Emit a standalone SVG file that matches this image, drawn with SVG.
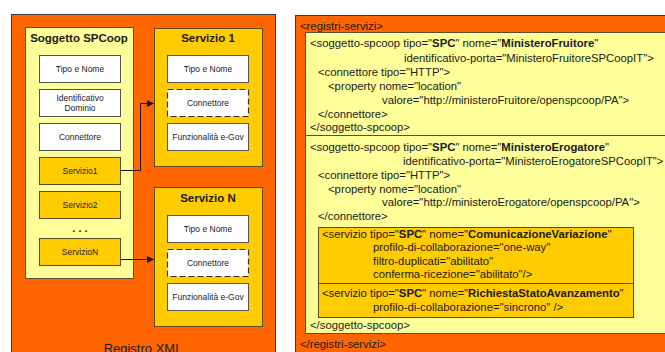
<svg xmlns="http://www.w3.org/2000/svg" width="665" height="352" viewBox="0 0 665 352">
  <style>
    text { font-family: "Liberation Sans", Arial, sans-serif; fill: #1a1a1a; }
    .panel { fill: #ff6600; stroke: #3a3a3a; stroke-width: 1; }
    .pale { fill: #ffff99; stroke: #5a5030; stroke-width: 1; }
    .gold { fill: #ffcc00; stroke: #5a4a20; stroke-width: 1; }
    .white { fill: #ffffff; stroke: #555555; stroke-width: 1; }
    .dashed { fill: #ffffff; stroke: #333333; stroke-width: 1.2; stroke-dasharray: 6 3; }
    .title { font-size: 11.5px; font-weight: bold; text-anchor: middle; }
    .lbl { font-size: 8.5px; text-anchor: middle; }
    .xml { font-size: 11.3px; }
    .b { font-weight: bold; }
    .wire { fill: none; stroke: #1a1a1a; stroke-width: 1; }
  </style>
  <defs>
    <marker id="arrow" viewBox="0 0 10 10" refX="10" refY="5" markerWidth="9" markerHeight="7" markerUnits="userSpaceOnUse" orient="auto">
      <path d="M0,0 L10,5 L0,10 z" fill="#1a1a1a"/>
    </marker>
  </defs>

  <!-- Registry model -->
  <g id="registro-xml">
    <rect class="panel" x="11.5" y="14.5" width="264" height="400"/>
    <text x="143" y="352.5" style="font-size:13px;text-anchor:middle">Registro XML</text>
  </g>

  <g id="soggetto-spcoop">
    <rect class="pale" x="25.5" y="27.5" width="108" height="251"/>
    <text class="title" x="79" y="42">Soggetto SPCoop</text>
    <g id="sog-tipo-nome">
      <rect class="white" x="39.5" y="55.5" width="81" height="27"/>
      <text class="lbl" x="80" y="72">Tipo e Nome</text>
    </g>
    <g id="sog-identificativo">
      <rect class="white" x="39.5" y="89.5" width="81" height="27"/>
      <text class="lbl" x="80" y="100.5">Identificativo</text>
      <text class="lbl" x="80" y="110.5">Dominio</text>
    </g>
    <g id="sog-connettore">
      <rect class="white" x="39.5" y="123.5" width="81" height="27"/>
      <text class="lbl" x="80" y="140">Connettore</text>
    </g>
    <g id="sog-servizio1">
      <rect class="gold" x="39.5" y="157.5" width="81" height="27"/>
      <text class="lbl" x="80" y="174">Servizio1</text>
    </g>
    <g id="sog-servizio2">
      <rect class="gold" x="39.5" y="191.5" width="81" height="27"/>
      <text class="lbl" x="80" y="208">Servizio2</text>
    </g>
    <text x="80" y="232" style="font-size:11px;font-weight:bold;text-anchor:middle">. . .</text>
    <g id="sog-servizioN">
      <rect class="gold" x="39.5" y="238.5" width="81" height="27"/>
      <text class="lbl" x="80" y="255">ServizioN</text>
    </g>
  </g>

  <g id="servizio-1">
    <rect class="gold" x="154.5" y="28.5" width="108" height="138"/>
    <text class="title" x="208" y="42">Servizio 1</text>
    <rect class="white" x="167.5" y="55.5" width="81" height="27"/>
    <text class="lbl" x="208" y="72">Tipo e Nome</text>
    <rect class="dashed" x="167.5" y="89.5" width="81" height="27"/>
    <text class="lbl" x="208" y="106">Connettore</text>
    <rect class="white" x="167.5" y="123.5" width="81" height="27"/>
    <text class="lbl" x="208" y="140">Funzionalità e-Gov</text>
  </g>

  <g id="servizio-n">
    <rect class="gold" x="154.5" y="187.5" width="108" height="139"/>
    <text class="title" x="208" y="202">Servizio N</text>
    <rect class="white" x="167.5" y="215.5" width="81" height="27"/>
    <text class="lbl" x="208" y="232">Tipo e Nome</text>
    <rect class="dashed" x="167.5" y="249.5" width="81" height="27"/>
    <text class="lbl" x="208" y="266">Connettore</text>
    <rect class="white" x="167.5" y="283.5" width="81" height="27"/>
    <text class="lbl" x="208" y="300">Funzionalità e-Gov</text>
  </g>

  <g id="connectors">
    <path class="wire" d="M120.5,170.5 H140.5 V103.5 H154" marker-end="url(#arrow)"/>
    <path class="wire" d="M120.5,259.5 H154" marker-end="url(#arrow)"/>
  </g>

  <!-- XML listing -->
  <g id="registri-servizi">
    <rect class="panel" x="295.5" y="15.5" width="400" height="400"/>
    <text class="xml" x="300" y="30">&lt;registri-servizi&gt;</text>
    <text class="xml" x="300" y="348">&lt;/registri-servizi&gt;</text>
  </g>

  <g id="soggetto-fruitore">
    <rect class="pale" x="305.5" y="32.5" width="380" height="103"/>
    <text class="xml" x="310" y="47">&lt;soggetto-spcoop tipo="<tspan class="b">SPC</tspan>" nome="<tspan class="b">MinisteroFruitore</tspan>"</text>
    <text class="xml" x="404" y="62">identificativo-porta="MinisteroFruitoreSPCoopIT"&gt;</text>
    <text class="xml" x="318" y="76">&lt;connettore tipo="HTTP"&gt;</text>
    <text class="xml" x="328" y="90">&lt;property nome="location"</text>
    <text class="xml" x="382" y="104">valore="http://ministeroFruitore/openspcoop/PA"&gt;</text>
    <text class="xml" x="318" y="118">&lt;/connettore&gt;</text>
    <text class="xml" x="310" y="131">&lt;/soggetto-spcoop&gt;</text>
  </g>

  <g id="soggetto-erogatore">
    <rect class="pale" x="305.5" y="135.5" width="380" height="198"/>
    <text class="xml" x="310" y="151">&lt;soggetto-spcoop tipo="<tspan class="b">SPC</tspan>" nome="<tspan class="b">MinisteroErogatore</tspan>"</text>
    <text class="xml" x="403" y="165">identificativo-porta="MinisteroErogatoreSPCoopIT"&gt;</text>
    <text class="xml" x="318" y="179">&lt;connettore tipo="HTTP"&gt;</text>
    <text class="xml" x="328" y="193">&lt;property nome="location"</text>
    <text class="xml" x="382" y="206">valore="http://ministeroErogatore/openspcoop/PA"&gt;</text>
    <text class="xml" x="318" y="220">&lt;/connettore&gt;</text>
    <text class="xml" x="310" y="329">&lt;/soggetto-spcoop&gt;</text>
  </g>

  <g id="servizio-comunicazione">
    <rect class="gold" x="318.5" y="227.5" width="315" height="56"/>
    <text class="xml" x="322" y="238">&lt;servizio tipo="<tspan class="b">SPC</tspan>" nome="<tspan class="b">ComunicazioneVariazione</tspan>"</text>
    <text class="xml" x="373" y="251">profilo-di-collaborazione="one-way"</text>
    <text class="xml" x="373" y="265">filtro-duplicati="abilitato"</text>
    <text class="xml" x="373" y="278">conferma-ricezione="abilitato"/&gt;</text>
  </g>

  <g id="servizio-richiesta">
    <rect class="gold" x="318.5" y="283.5" width="315" height="34"/>
    <text class="xml" x="322" y="297">&lt;servizio tipo="<tspan class="b">SPC</tspan>" nome="<tspan class="b">RichiestaStatoAvanzamento</tspan>"</text>
    <text class="xml" x="373" y="311">profilo-di-collaborazione="sincrono" /&gt;</text>
  </g>
</svg>
